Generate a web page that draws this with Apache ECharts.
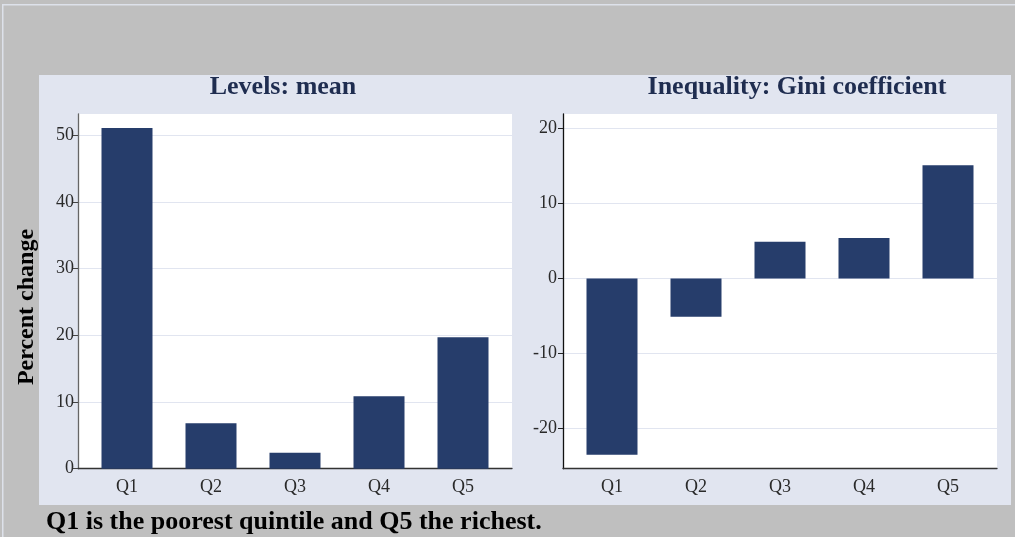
<!DOCTYPE html>
<html>
<head>
<meta charset="utf-8">
<script src="https://cdn.jsdelivr.net/npm/echarts@6/dist/echarts.min.js"></script>
<style>
html,body{margin:0;padding:0;background:#bfbfbf;}
#chart{width:1015px;height:537px;}
</style>
</head>
<body>
<div id="chart"></div>
<script>
const categories = ['Q1', 'Q2', 'Q3', 'Q4', 'Q5'];
const meanValues = [51.1, 6.8, 2.4, 10.85, 19.7];
const giniValues = [-23.5, -5.1, 4.9, 5.4, 15.1];
const meanTicks = [0, 10, 20, 30, 40, 50];
const giniTicks = [-20, -10, 0, 10, 20];

const SERIF = '"Liberation Serif", "DejaVu Serif", serif';
const BAR = '#263d6b';
const LAV = '#e1e5f0';

const catPositions = categories.map((c, i) => i + 1);
function toPoints(vals) { return vals.map((v, i) => [i + 1, v]); }

function xAxisFor(gridIndex) {
  return {
    type: 'value', gridIndex: gridIndex, min: 0.4167, max: 5.5833,
    axisLine: { show: true, onZero: false, lineStyle: { color: '#333', width: 1.3 } },
    axisTick: { show: false },
    splitLine: { show: false },
    axisLabel: {
      customValues: catPositions,
      formatter: v => categories[Math.round(v) - 1] || '',
      fontFamily: SERIF, fontSize: 18, color: '#2a2a2a', margin: 10
    }
  };
}

const chart = echarts.init(document.getElementById('chart'));
chart.setOption({
  backgroundColor: '#bfbfbf',
  animation: false,
  graphic: [
    { type: 'rect', z: -10, shape: { x: 39, y: 75, width: 972, height: 430 }, style: { fill: LAV } },
    { type: 'rect', z: -10, shape: { x: 2, y: 4, width: 1013, height: 1.5 }, style: { fill: '#dde1ea' } },
    { type: 'rect', z: -10, shape: { x: 2, y: 4, width: 1.5, height: 533 }, style: { fill: '#dde1ea' } },
    { type: 'text', x: 27, y: 307, rotation: Math.PI / 2,
      style: { text: 'Percent change', align: 'center', verticalAlign: 'middle',
        font: 'bold 24px ' + SERIF, fill: '#000' } }
  ],
  title: [
    { text: 'Levels: mean', left: 278, top: 69, textAlign: 'center',
      textStyle: { fontFamily: SERIF, fontSize: 26, fontWeight: 'bold', color: '#1f2d50' } },
    { text: 'Inequality: Gini coefficient', left: 792, top: 69, textAlign: 'center',
      textStyle: { fontFamily: SERIF, fontSize: 26, fontWeight: 'bold', color: '#1f2d50' } },
    { text: 'Q1 is the poorest quintile and Q5 the richest.', left: 41, top: 504,
      textStyle: { fontFamily: SERIF, fontSize: 26, fontWeight: 'bold', color: '#000' } }
  ],
  grid: [
    { left: 78, top: 114, width: 434, height: 354.7, show: true, backgroundColor: '#fff', borderWidth: 0 },
    { left: 563, top: 114, width: 434, height: 354.7, show: true, backgroundColor: '#fff', borderWidth: 0 }
  ],
  xAxis: [xAxisFor(0), xAxisFor(1)],
  yAxis: [
    {
      type: 'value', gridIndex: 0, min: 0, max: 53.2,
      axisLine: { show: true, lineStyle: { color: '#666', width: 1.3 } },
      axisTick: { show: true, length: 5, customValues: meanTicks, lineStyle: { color: '#444' } },
      axisLabel: { customValues: meanTicks, fontFamily: SERIF, fontSize: 18, color: '#2a2a2a', margin: 4 },
      splitLine: { show: true, lineStyle: { color: LAV, width: 1 } }
    },
    {
      type: 'value', gridIndex: 1, min: -25.36, max: 21.93,
      axisLine: { show: true, lineStyle: { color: '#111', width: 1.3 } },
      axisTick: { show: true, length: 5, customValues: giniTicks, lineStyle: { color: '#222' } },
      axisLabel: { customValues: giniTicks, fontFamily: SERIF, fontSize: 18, color: '#2a2a2a', margin: 6 },
      splitLine: { show: true, lineStyle: { color: LAV, width: 1 } }
    }
  ],
  series: [
    { type: 'bar', xAxisIndex: 0, yAxisIndex: 0, data: toPoints(meanValues), barWidth: 51,
      itemStyle: { color: BAR } },
    { type: 'bar', xAxisIndex: 1, yAxisIndex: 1, data: toPoints(giniValues), barWidth: 51,
      itemStyle: { color: BAR } }
  ]
});
</script>
</body>
</html>
